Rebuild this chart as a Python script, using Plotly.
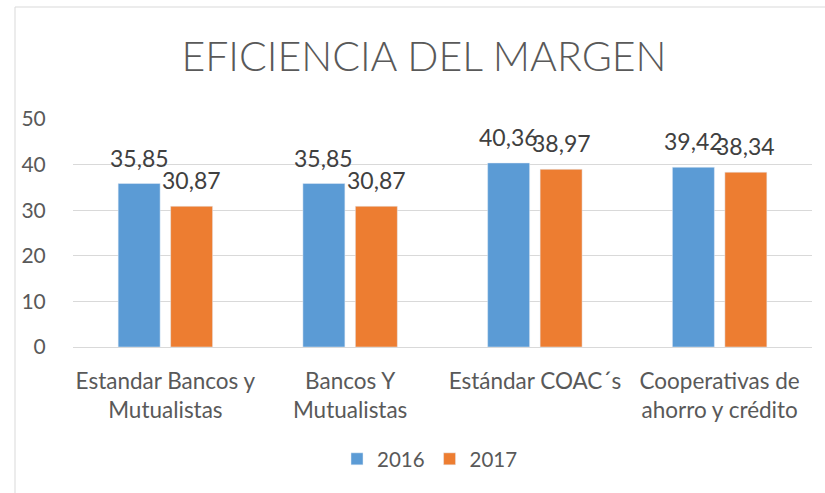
import plotly.graph_objects as go

categories = ["Estandar Bancos y<br>Mutualistas", "Bancos Y<br>Mutualistas", "Estándar COAC´s", "Cooperativas de<br>ahorro y crédito"]
values_2016 = [35.85, 35.85, 40.36, 39.42]
values_2017 = [30.87, 30.87, 38.97, 38.34]
y_ticks = [0, 10, 20, 30, 40, 50]

FONT = "Lato"
GREY = "#595959"
FS = 21

L, R, T, B = 73, 13, 119, 146
W, H = 825, 493
pw, ph = W - L - R, H - T - B
BARGAP = 0.432
step = pw / len(categories)
half_slot = step * (1 - BARGAP) / 4

def px(x):
    return (x - L) / pw

def py(y):
    return (H - B - y) / ph

fig = go.Figure()
annotations = []
series = [("2016", values_2016, "#5B9BD5", -half_slot), ("2017", values_2017, "#ED7D31", half_slot)]
for name, vals, col, shift in series:
    fig.add_trace(go.Bar(name=name, x=categories, y=vals, marker_color=col))
    for c, v in zip(categories, vals):
        annotations.append(dict(x=c, y=v, xref="x", yref="y", text=f"{v:.2f}".replace(".", ","),
                                showarrow=False, xshift=shift, yshift=10, yanchor="bottom",
                                font=dict(size=23, color="#404040", family=FONT)))

fig.update_layout(
    width=W, height=H,
    margin=dict(l=L, r=R, t=T, b=B),
    paper_bgcolor="white", plot_bgcolor="white",
    separators=",.",
    barmode="group", bargap=BARGAP, bargroupgap=0.2,
    font=dict(family=FONT, color=GREY, size=FS),
    title=dict(text="EFICIENCIA DEL MARGEN", x=424 / W, xanchor="center", xref="container",
               y=1 - 57 / H, yanchor="middle",
               font=dict(family="Lato Light, Lato", size=41, color=GREY, weight=300)),
    legend=dict(orientation="h", x=px(430), xanchor="center", y=py(459), yanchor="middle",
                font=dict(size=20.5, color=GREY), itemwidth=30, traceorder="normal"),
    xaxis=dict(showgrid=False, showline=True, linecolor="#d9d9d9", linewidth=1,
               ticks="outside", ticklen=14, tickcolor="rgba(0,0,0,0)",
               tickfont=dict(size=22.5, color=GREY)),
    yaxis=dict(range=[0, 50], tickvals=y_ticks, showgrid=True, gridcolor="#d9d9d9",
               zeroline=False, showline=False,
               ticks="outside", ticklen=22, tickcolor="rgba(0,0,0,0)",
               tickfont=dict(size=FS, color=GREY)),
    annotations=annotations,
    shapes=[dict(type="rect", xref="paper", yref="paper",
                 x0=px(15), x1=px(840), y0=py(510), y1=py(7),
                 line=dict(color="#d9d9d9", width=1), fillcolor="rgba(0,0,0,0)", layer="below")],
)

fig.write_html("out.html", config={"displayModeBar": False},
               post_script="document.body.style.margin='0';")
